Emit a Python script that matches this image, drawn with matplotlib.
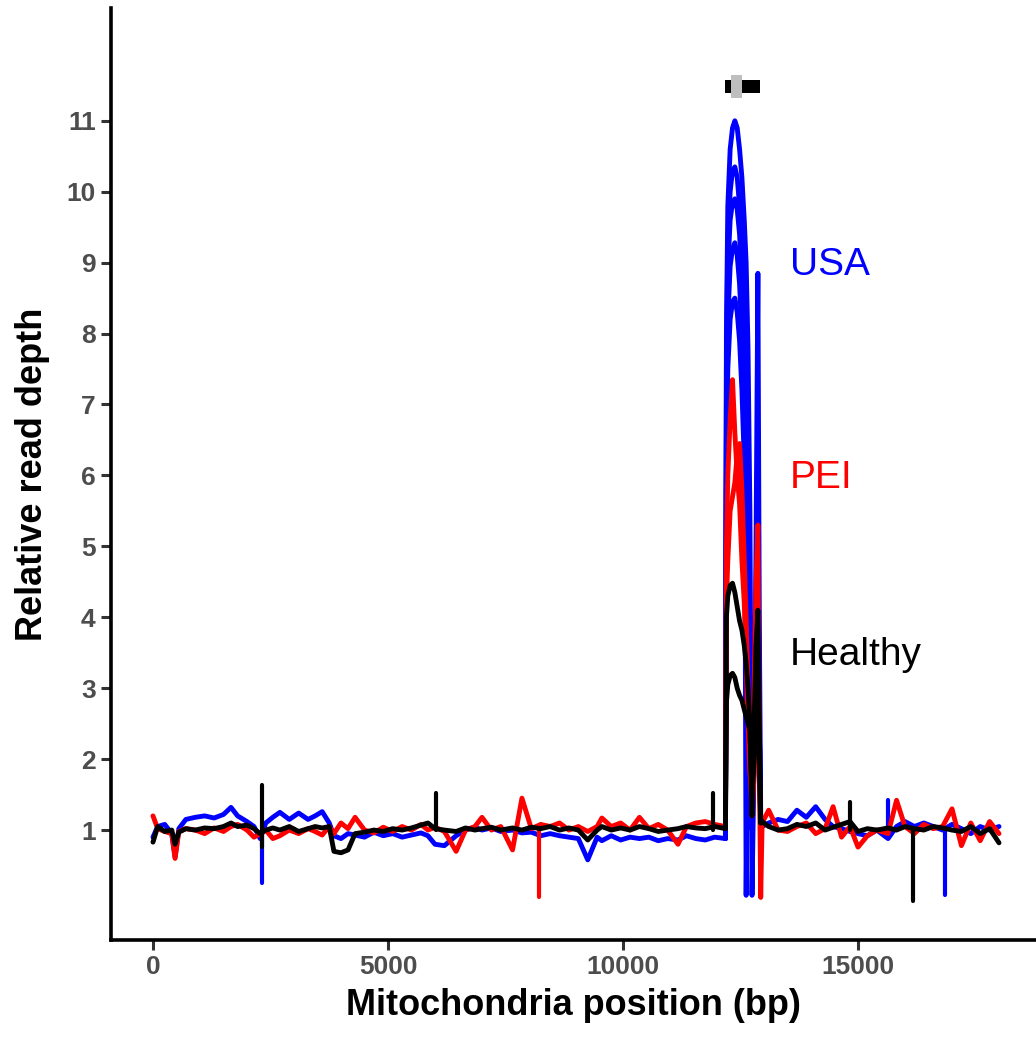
import matplotlib
matplotlib.use("Agg")
import matplotlib.pyplot as plt
from matplotlib.patches import Rectangle

# ---------------- data ----------------
left_pos = [0, 100, 250, 400, 470, 550, 700, 900, 1100, 1300, 1500, 1660, 1800, 2000, 2150,
            2280, 2400, 2550, 2700, 2900, 3100, 3300, 3450, 3600, 3750, 3850, 4000, 4150, 4300,
            4500, 4700, 4900, 5100, 5300, 5500, 5700, 5850, 6000, 6200, 6450, 6650, 6850, 7000,
            7200, 7400, 7650, 7850, 8050, 8250, 8450, 8650, 8850, 9050, 9250, 9450, 9550, 9750,
            9950, 10150, 10350, 10550, 10750, 10950, 11170, 11350, 11550, 11750, 11950, 12180]

usa_left = [0.90, 1.05, 1.08, 0.95, 0.62, 1.02, 1.15, 1.18, 1.20, 1.17, 1.22, 1.32, 1.20, 1.12, 1.05,
            0.88, 1.10, 1.18, 1.25, 1.15, 1.24, 1.15, 1.20, 1.26, 1.10, 0.92, 0.88, 0.95, 0.93,
            0.90, 0.97, 0.92, 0.95, 0.90, 0.93, 0.96, 0.92, 0.80, 0.78, 0.92, 1.00, 1.04, 1.00,
            1.03, 0.98, 1.00, 0.96, 0.97, 0.92, 0.95, 0.92, 0.90, 0.88, 0.58, 0.90, 0.85, 0.92,
            0.86, 0.90, 0.88, 0.90, 0.85, 0.88, 0.86, 0.92, 0.88, 0.86, 0.90, 0.88]

pei_left = [1.20, 1.02, 0.98, 0.95, 0.60, 0.98, 1.02, 1.00, 0.95, 1.03, 0.98, 1.05, 1.08, 1.00, 0.90,
            0.95, 1.00, 0.88, 0.92, 1.00, 0.95, 1.02, 0.98, 0.93, 1.05, 0.95, 1.10, 1.02, 1.18,
            1.00, 0.96, 1.04, 0.98, 1.05, 1.00, 1.08, 1.00, 1.04, 0.98, 0.70, 1.00, 1.05, 1.18,
            1.00, 1.05, 0.72, 1.45, 1.02, 1.08, 1.05, 1.10, 1.00, 1.05, 0.98, 1.05, 1.17, 1.05,
            1.10, 1.00, 1.18, 1.02, 1.08, 1.00, 0.80, 1.05, 1.10, 1.12, 1.08, 1.05]

healthy_left = [0.83, 1.05, 0.98, 1.00, 0.80, 0.97, 1.02, 1.00, 1.03, 1.02, 1.05, 1.10, 1.05, 1.07, 1.02,
                0.95, 1.00, 1.03, 1.00, 1.05, 0.98, 1.02, 1.05, 1.03, 1.05, 0.70, 0.68, 0.72, 0.95,
                0.97, 1.00, 0.98, 1.02, 1.00, 1.03, 1.07, 1.10, 1.02, 1.00, 0.98, 1.03, 1.00, 1.02,
                1.04, 1.00, 1.03, 1.00, 1.04, 1.02, 1.05, 1.00, 1.03, 1.00, 0.86, 1.00, 1.05, 1.00,
                1.03, 1.00, 1.05, 1.02, 0.98, 1.00, 1.02, 1.05, 1.03, 1.02, 1.05, 1.02]

right_pos = [12960, 13100, 13300, 13500, 13700, 13900, 14100, 14300, 14470, 14650, 14830, 15000,
             15200, 15400, 15640, 15820, 16000, 16200, 16400, 16600, 16800, 17000, 17200, 17400,
             17600, 17800, 18000]

usa_right = [1.05, 1.10, 1.15, 1.12, 1.28, 1.18, 1.33, 1.15, 1.05, 1.02, 0.98, 0.95, 0.92, 1.00,
             0.88, 1.05, 1.12, 1.05, 1.10, 1.05, 1.00, 1.08, 1.02, 0.95, 1.05, 1.00, 1.05]
pei_right = [1.10, 1.28, 1.00, 0.98, 1.05, 1.10, 0.95, 1.02, 1.33, 0.90, 1.05, 0.76, 0.92, 1.00,
             0.95, 1.42, 1.05, 0.95, 1.08, 1.02, 1.05, 1.30, 0.78, 1.10, 0.85, 1.12, 0.95]
healthy_right = [1.12, 1.05, 1.00, 1.02, 1.08, 1.05, 1.10, 1.00, 1.04, 1.08, 1.12, 0.98, 1.02, 1.00,
                 1.03, 1.00, 1.05, 1.02, 1.00, 1.05, 1.03, 1.00, 0.98, 1.05, 0.95, 1.02, 0.82]

# amplified region (per sample)
peak_pos = [12180, 12200, 12230, 12280, 12330, 12380, 12430, 12480, 12530, 12580, 12620, 12660,
            12700, 12745, 12790, 12830, 12870, 12900, 12930, 12960]

usa_peaks = [
    [0.88, 8.0, 9.8, 10.6, 10.9, 11.0, 10.9, 10.6, 10.2, 9.6, 9.0, 7.8, 5.5, 0.08, 2.0, 5.0, 8.85, 4.0, 1.2, 1.05],
    [0.88, 7.5, 9.3, 10.0, 10.3, 10.35, 10.2, 9.8, 9.2, 8.0, 0.08, 3.0, 4.0, 1.0, 2.0, 4.0, 6.0, 2.5, 1.1, 1.05],
    [0.88, 7.0, 8.9, 9.6, 9.85, 9.9, 9.75, 9.4, 8.8, 7.8, 6.5, 5.0, 3.0, 1.5, 2.5, 4.0, 5.5, 2.5, 1.1, 1.05],
    [0.88, 6.5, 8.2, 8.95, 9.2, 9.28, 9.1, 8.7, 8.0, 7.0, 5.8, 4.2, 2.5, 1.8, 2.8, 3.8, 4.8, 2.2, 1.1, 1.05],
    [0.88, 6.0, 7.5, 8.2, 8.45, 8.5, 8.3, 7.9, 7.2, 6.2, 5.0, 3.5, 2.0, 1.6, 2.4, 3.3, 4.0, 2.0, 1.1, 1.05],
]
pei_peaks = [
    [1.05, 5.0, 6.0, 6.8, 7.35, 6.6, 6.0, 5.6, 4.8, 4.2, 3.4, 2.5, 1.8, 1.5, 3.0, 4.5, 5.3, 2.0, 0.05, 1.10],
    [1.05, 4.2, 4.8, 5.5, 5.7, 5.9, 6.3, 6.45, 5.8, 4.8, 4.0, 3.0, 2.0, 1.2, 1.8, 2.8, 3.8, 1.8, 1.0, 1.10],
]
healthy_peaks = [
    [1.02, 4.0, 4.3, 4.45, 4.48, 4.35, 4.15, 3.95, 3.82, 3.6, 3.35, 3.0, 2.5, 1.2, 2.5, 3.6, 4.1, 2.5, 1.1, 1.12],
    [1.02, 2.8, 3.05, 3.18, 3.21, 3.15, 3.0, 2.9, 2.83, 2.7, 2.6, 2.5, 2.4, 1.5, 2.0, 2.6, 2.8, 2.0, 1.1, 1.12],
]

# narrow single-position spikes: position, low, high
usa_spike_pos = [2320, 15640, 16850]
usa_spike_lo = [0.25, 1.00, 0.08]
usa_spike_hi = [1.00, 1.42, 1.00]
pei_spike_pos = [8210]
pei_spike_lo = [0.06]
pei_spike_hi = [1.05]
healthy_spike_pos = [2320, 6030, 11920, 14830, 16177]
healthy_spike_lo = [0.76, 1.00, 1.00, 1.00, 0.00]
healthy_spike_hi = [1.63, 1.52, 1.52, 1.40, 1.00]

# gene annotation bar
gene_start, gene_end = 12170, 12915
sub_start, sub_end = 12300, 12530
bar_y = 11.48

group_names = ["USA", "PEI", "Healthy"]
label_x = [13550, 13550, 13550]
label_y = [8.97, 5.96, 3.47]

yticks = [1, 2, 3, 4, 5, 6, 7, 8, 9, 10, 11]
xticks = [0, 5000, 10000, 15000]

# ---------------- plot ----------------
plt.rcParams['font.family'] = ['Liberation Sans', 'DejaVu Sans']

fig = plt.figure(figsize=(10.36, 10.38), dpi=100)
ax = fig.add_axes([0.1071, 0.0944, 0.8929, 0.8979])

lw = 3.5
kw = dict(lw=lw, solid_joinstyle='round', solid_capstyle='round')

groups = [
    ("#0000FF", usa_left, usa_right, usa_peaks, usa_spike_pos, usa_spike_lo, usa_spike_hi),
    ("#FF0000", pei_left, pei_right, pei_peaks, pei_spike_pos, pei_spike_lo, pei_spike_hi),
    ("#000000", healthy_left, healthy_right, healthy_peaks, healthy_spike_pos, healthy_spike_lo, healthy_spike_hi),
]
for color, lv, rv, peaks, sp, slo, shi in groups:
    ax.plot(left_pos, lv, color=color, **kw)
    ax.plot(right_pos, rv, color=color, **kw)
    for pk in peaks:
        ax.plot(peak_pos, pk, color=color, **kw)
    ax.vlines(sp, slo, shi, color=color, lw=lw - 0.5, capstyle='round')

# annotation bar
ax.add_patch(Rectangle((gene_start, bar_y - 0.09), gene_end - gene_start, 0.18,
                       facecolor='black', edgecolor='none'))
ax.add_patch(Rectangle((sub_start, bar_y - 0.16), sub_end - sub_start, 0.32,
                       facecolor='#BEBEBE', edgecolor='none'))

for name, c, lx, ly in zip(group_names, ["#0000FF", "#FF0000", "#000000"], label_x, label_y):
    ax.text(lx, ly, name, color=c, fontsize=28, ha='left', va='center')

ax.set_xlim(-894, 18787)
ax.set_ylim(-0.55, 12.59)
ax.set_xticks(xticks)
ax.set_xticklabels([str(v) for v in xticks])
ax.set_yticks(yticks)
ax.set_yticklabels([str(v) for v in yticks])

for s in ['top', 'right']:
    ax.spines[s].set_visible(False)
for s in ['left', 'bottom']:
    ax.spines[s].set_linewidth(2.6)
    ax.spines[s].set_color('black')

ax.tick_params(axis='both', length=7, width=2.2, color='#333333', direction='out',
               labelsize=19, labelcolor='#4D4D4D', pad=4)
for lab in ax.get_xticklabels() + ax.get_yticklabels():
    lab.set_fontweight('bold')

ax.set_xlabel("Mitochondria position (bp)", fontsize=26, fontweight='bold', labelpad=6)
ax.set_ylabel("Relative read depth", fontsize=26, fontweight='bold', labelpad=12)

fig.savefig("out.png", dpi=100)
